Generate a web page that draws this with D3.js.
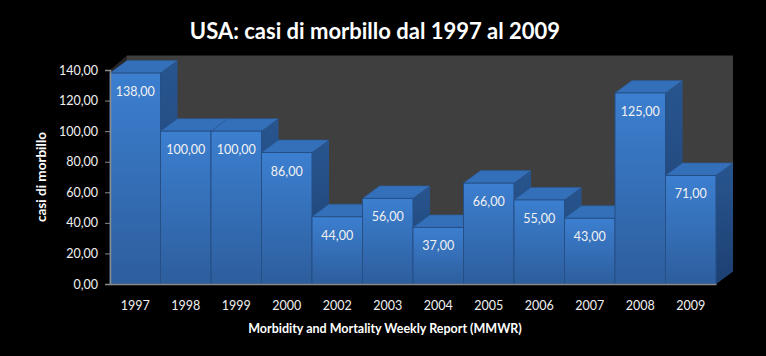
<!DOCTYPE html>
<html><head><meta charset="utf-8">
<script src="https://cdn.jsdelivr.net/npm/d3@7"></script>
<style>body{margin:0;background:#000;}svg{display:block;}</style>
</head><body>
<script>
const categories = ["1997","1998","1999","2000","2002","2003","2004","2005","2006","2007","2008","2009"];
const values = [138,100,100,86,44,56,37,66,55,43,125,71];
const yTicks = [0,20,40,60,80,100,120,140];
const titleText = "USA: casi di morbillo dal 1997 al 2009";
const yTitle = "casi di morbillo";
const xTitle = "Morbidity and Mortality Weekly Report (MMWR)";

(function(){
const W = 766, H = 356;
const pLeft = 110, pRight = 716, pTop = 70, pBottom = 284;
const dx = 17, dy = 12.5;
const font = "Lato, 'Open Sans', sans-serif";
const fmt = v => d3.format(".2f")(v).replace(".", ",");

const svg = d3.select("body").append("svg").attr("width", W).attr("height", H);
const x = d3.scaleBand().domain(categories).range([pLeft, pRight]).padding(0);
const y = d3.scaleLinear().domain([0, 140]).range([pBottom, pTop]);

const defs = svg.append("defs");
const g1 = defs.append("linearGradient").attr("id","front").attr("x1",0).attr("y1",0).attr("x2",0).attr("y2",1);
g1.append("stop").attr("offset","0%").attr("stop-color","#3c7fd0");
g1.append("stop").attr("offset","100%").attr("stop-color","#2d5e9d");
const g2 = defs.append("linearGradient").attr("id","side").attr("x1",0).attr("y1",0).attr("x2",0).attr("y2",1);
g2.append("stop").attr("offset","0%").attr("stop-color","#28558f");
g2.append("stop").attr("offset","100%").attr("stop-color","#1d4072");

svg.append("rect").attr("x", pLeft+dx).attr("y", y(140)-dy-2).attr("width", pRight-pLeft).attr("height", pBottom-y(140)+2)
  .attr("fill", "#3f3f3f");
svg.append("path").attr("d", `M${pLeft},${y(140)}L${pLeft+dx},${y(140)-dy-2}L${pLeft+dx},${pBottom-dy}L${pLeft},${pBottom}Z`).attr("fill","#262626");
svg.append("path").attr("d", `M${pLeft},${pBottom}L${pRight},${pBottom}L${pRight+dx},${pBottom-dy}L${pLeft+dx},${pBottom-dy}Z`).attr("fill","#1a1a1a");

const bw = x.bandwidth();
categories.forEach((c,i) => {
  const x0 = x(c), x1 = x0 + bw, yt = y(values[i]);
  const g = svg.append("g");
  g.append("path").attr("d", `M${x0},${yt}L${x0+dx},${yt-dy}L${x1+dx},${yt-dy}L${x1},${yt}Z`).attr("fill","#3470ba").attr("stroke","#2a5a98").attr("stroke-width",0.6);
  g.append("path").attr("d", `M${x1},${yt}L${x1+dx},${yt-dy}L${x1+dx},${pBottom-dy}L${x1},${pBottom}Z`).attr("fill","url(#side)");
  g.append("rect").attr("x", x0).attr("y", yt).attr("width", bw).attr("height", pBottom-yt).attr("fill","url(#front)")
    .attr("stroke","#254f85").attr("stroke-width",1);
  g.append("text").attr("x", x0 + bw/2).attr("y", yt + 23).attr("text-anchor","middle")
    .attr("fill","#f2f2f2").attr("font-family",font).attr("font-size",12.5).text(fmt(values[i]));
});

const ya = svg.append("g").attr("transform",`translate(${pLeft},0)`)
  .call(d3.axisLeft(y).tickValues(yTicks).tickSize(5).tickFormat(fmt));
ya.select(".domain").attr("stroke","#8c8c8c").attr("stroke-width",1.5);
ya.selectAll(".tick line").attr("stroke","#8c8c8c");
ya.selectAll(".tick text").attr("fill","#f0f0f0").attr("font-family",font).attr("font-size",12.5).attr("x",-12);

const xa = svg.append("g").attr("transform",`translate(0,${pBottom})`)
  .call(d3.axisBottom(x).tickSize(0).tickSizeOuter(0));
xa.select(".domain").attr("stroke","#8c8c8c").attr("stroke-width",1.5);
xa.selectAll(".tick text").attr("fill","#f0f0f0").attr("font-family",font).attr("font-size",12.5).attr("dy","1.8em");

svg.append("text").attr("x", 375).attr("y", 39).attr("text-anchor","middle").attr("fill","#fff")
  .attr("font-family",font).attr("font-weight","bold").attr("font-size",22).text(titleText);
svg.append("text").attr("transform",`translate(46,${(pTop+pBottom)/2}) rotate(-90)`).attr("text-anchor","middle")
  .attr("fill","#fff").attr("font-family",font).attr("font-weight","bold").attr("font-size",13.5).text(yTitle);
svg.append("text").attr("x", 385).attr("y", 333).attr("text-anchor","middle").attr("fill","#fff")
  .attr("font-family",font).attr("font-weight","bold").attr("font-size",12.5).text(xTitle);
})();
</script>
</body></html>
